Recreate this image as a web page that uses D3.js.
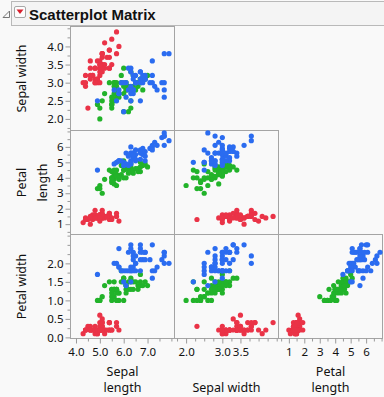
<!DOCTYPE html>
<html>
<head>
<meta charset="utf-8">
<script src="https://cdn.jsdelivr.net/npm/d3@7"></script>
<style>
  body { margin: 0; background: #f9f9f9; }
  svg { display: block; }
  text { font-family: "Noto Sans", "Open Sans", sans-serif; fill: #111; }
</style>
</head>
<body>
<div id="chart"></div>
<script>
// Fisher's iris data, rows in order: 50 setosa, 50 versicolor, 50 virginica
var sepalLength = [
 5.1,4.9,4.7,4.6,5.0,5.4,4.6,5.0,4.4,4.9,5.4,4.8,4.8,4.3,5.8,5.7,5.4,5.1,5.7,5.1,5.4,5.1,4.6,5.1,4.8,
 5.0,5.0,5.2,5.2,4.7,4.8,5.4,5.2,5.5,4.9,5.0,5.5,4.9,4.4,5.1,5.0,4.5,4.4,5.0,5.1,4.8,5.1,4.6,5.3,5.0,
 7.0,6.4,6.9,5.5,6.5,5.7,6.3,4.9,6.6,5.2,5.0,5.9,6.0,6.1,5.6,6.7,5.6,5.8,6.2,5.6,5.9,6.1,6.3,6.1,6.4,
 6.6,6.8,6.7,6.0,5.7,5.5,5.5,5.8,6.0,5.4,6.0,6.7,6.3,5.6,5.5,5.5,6.1,5.8,5.0,5.6,5.7,5.7,6.2,5.1,5.7,
 6.3,5.8,7.1,6.3,6.5,7.6,4.9,7.3,6.7,7.2,6.5,6.4,6.8,5.7,5.8,6.4,6.5,7.7,7.7,6.0,6.9,5.6,7.7,6.3,6.7,
 7.2,6.2,6.1,6.4,7.2,7.4,7.9,6.4,6.3,6.1,7.7,6.3,6.4,6.0,6.9,6.7,6.9,5.8,6.8,6.7,6.7,6.3,6.5,6.2,5.9];
var sepalWidth = [
 3.5,3.0,3.2,3.1,3.6,3.9,3.4,3.4,2.9,3.1,3.7,3.4,3.0,3.0,4.0,4.4,3.9,3.5,3.8,3.8,3.4,3.7,3.6,3.3,3.4,
 3.0,3.4,3.5,3.4,3.2,3.1,3.4,4.1,4.2,3.1,3.2,3.5,3.6,3.0,3.4,3.5,2.3,3.2,3.5,3.8,3.0,3.8,3.2,3.7,3.3,
 3.2,3.2,3.1,2.3,2.8,2.8,3.3,2.4,2.9,2.7,2.0,3.0,2.2,2.9,2.9,3.1,3.0,2.7,2.2,2.5,3.2,2.8,2.5,2.8,2.9,
 3.0,2.8,3.0,2.9,2.6,2.4,2.4,2.7,2.7,3.0,3.4,3.1,2.3,3.0,2.5,2.6,3.0,2.6,2.3,2.7,3.0,2.9,2.9,2.5,2.8,
 3.3,2.7,3.0,2.9,3.0,3.0,2.5,2.9,2.5,3.6,3.2,2.7,3.0,2.5,2.8,3.2,3.0,3.8,2.6,2.2,3.2,2.8,2.8,2.7,3.3,
 3.2,2.8,3.0,2.8,3.0,2.8,3.8,2.8,2.8,2.6,3.0,3.4,3.1,3.0,3.1,3.1,3.1,2.7,3.2,3.3,3.0,2.5,3.0,3.4,3.0];
var petalLength = [
 1.4,1.4,1.3,1.5,1.4,1.7,1.4,1.5,1.4,1.5,1.5,1.6,1.4,1.1,1.2,1.5,1.3,1.4,1.7,1.5,1.7,1.5,1.0,1.7,1.9,
 1.6,1.6,1.5,1.4,1.6,1.6,1.5,1.5,1.4,1.5,1.2,1.3,1.4,1.3,1.5,1.3,1.3,1.3,1.6,1.9,1.4,1.6,1.4,1.5,1.4,
 4.7,4.5,4.9,4.0,4.6,4.5,4.7,3.3,4.6,3.9,3.5,4.2,4.0,4.7,3.6,4.4,4.5,4.1,4.5,3.9,4.8,4.0,4.9,4.7,4.3,
 4.4,4.8,5.0,4.5,3.5,3.8,3.7,3.9,5.1,4.5,4.5,4.7,4.4,4.1,4.0,4.4,4.6,4.0,3.3,4.2,4.2,4.2,4.3,3.0,4.1,
 6.0,5.1,5.9,5.6,5.8,6.6,4.5,6.3,5.8,6.1,5.1,5.3,5.5,5.0,5.1,5.3,5.5,6.7,6.9,5.0,5.7,4.9,6.7,4.9,5.7,
 6.0,4.8,4.9,5.6,5.8,6.1,6.4,5.6,5.1,5.6,6.1,5.6,5.5,4.8,5.4,5.6,5.1,5.1,5.9,5.7,5.2,5.0,5.2,5.4,5.1];
var petalWidth = [
 0.2,0.2,0.2,0.2,0.2,0.4,0.3,0.2,0.2,0.1,0.2,0.2,0.1,0.1,0.2,0.4,0.4,0.3,0.3,0.3,0.2,0.4,0.2,0.5,0.2,
 0.2,0.4,0.2,0.2,0.2,0.2,0.4,0.1,0.2,0.2,0.2,0.2,0.1,0.2,0.2,0.3,0.3,0.2,0.6,0.4,0.3,0.2,0.2,0.2,0.2,
 1.4,1.5,1.5,1.3,1.5,1.3,1.6,1.0,1.3,1.4,1.0,1.5,1.0,1.4,1.3,1.4,1.5,1.0,1.5,1.1,1.8,1.3,1.5,1.2,1.3,
 1.4,1.4,1.7,1.5,1.0,1.1,1.0,1.2,1.6,1.5,1.6,1.5,1.3,1.3,1.3,1.2,1.4,1.2,1.0,1.3,1.2,1.3,1.3,1.1,1.3,
 2.5,1.9,2.1,1.8,2.2,2.1,1.7,1.8,1.8,2.5,2.0,1.9,2.1,2.0,2.4,2.3,1.8,2.2,2.3,1.5,2.3,2.0,2.0,1.8,2.1,
 1.8,1.8,1.8,2.1,1.6,1.9,2.0,2.2,1.5,1.4,2.3,2.4,1.8,1.8,2.1,2.4,2.3,1.9,2.3,2.5,2.3,1.9,2.0,2.3,1.8];

var speciesNames  = ["setosa", "versicolor", "virginica"];
var speciesCounts = [50, 50, 50];
var speciesColors = ["#ea3347", "#22b32a", "#2b6cf0"];

// ticks and the labels JMP chose to print
var sepalLengthTicks  = [4.0, 4.5, 5.0, 5.5, 6.0, 6.5, 7.0, 7.5, 8.0];
var sepalLengthLabels = [4.0, 5.0, 6.0, 7.0];
var sepalWidthTicks   = [1.75, 2.0, 2.25, 2.5, 2.75, 3.0, 3.25, 3.5, 3.75, 4.0, 4.25, 4.5];
var sepalWidthXLabels = [2.0, 3.0, 3.5];
var sepalWidthYLabels = [2.0, 2.5, 3.0, 3.5, 4.0];
var petalLengthTicks  = [0.5, 1, 1.5, 2, 2.5, 3, 3.5, 4, 4.5, 5, 5.5, 6, 6.5, 7];
var petalLengthLabels = [1, 2, 3, 4, 5, 6];
var petalWidthTicks   = [0, 0.25, 0.5, 0.75, 1.0, 1.25, 1.5, 1.75, 2.0, 2.25, 2.5, 2.75];
var petalWidthLabels  = [0.0, 0.5, 1.0, 1.5, 2.0];

var width = 384, height = 397;
var plotLeft = 70.5, plotTop = 26.5, cell = 104;

// species index per row, from the counts
var species = [];
speciesCounts.forEach(function(n, s) { for (var i = 0; i < n; i++) species.push(s); });

var rows = [
  { title: ["Sepal width"], data: sepalWidth, domain: [1.68, 4.55], ticks: sepalWidthTicks, labels: sepalWidthYLabels, fmt: d3.format(".1f") },
  { title: ["Petal", "length"], data: petalLength, domain: [0.33, 7.06], ticks: petalLengthTicks, labels: petalLengthLabels, fmt: d3.format("d") },
  { title: ["Petal width"], data: petalWidth, domain: [-0.03, 2.78], ticks: petalWidthTicks, labels: petalWidthLabels, fmt: d3.format(".1f") }
];
var cols = [
  { title: ["Sepal", "length"], data: sepalLength, domain: [3.77, 8.13], ticks: sepalLengthTicks, labels: sepalLengthLabels, fmt: d3.format(".1f") },
  { title: ["Sepal width"], data: sepalWidth, domain: [1.68, 4.55], ticks: sepalWidthTicks, labels: sepalWidthXLabels, fmt: d3.format(".1f") },
  { title: ["Petal", "length"], data: petalLength, domain: [0.33, 7.06], ticks: petalLengthTicks, labels: petalLengthLabels, fmt: d3.format("d") }
];

var svg = d3.select("#chart").append("svg")
  .attr("width", width)
  .attr("height", height);

// header
svg.append("path")
  .attr("d", "M3,17.5 L9.5,17.5 L9.5,11 Z")
  .attr("fill", "none")
  .attr("stroke", "#777");
svg.append("rect")
  .attr("x", 11.5).attr("y", 1.5)
  .attr("width", 380).attr("height", 24)
  .attr("fill", "#f4f4f4")
  .attr("stroke", "#b9b9b9");
svg.append("rect")
  .attr("x", 14.5).attr("y", 6.5)
  .attr("width", 11).attr("height", 11)
  .attr("rx", 1.5)
  .attr("fill", "#fdfdfd")
  .attr("stroke", "#a8a8a8");
svg.append("path")
  .attr("d", "M16.5,9.5 L23.5,9.5 L20,14 Z")
  .attr("fill", "#d8202e");
svg.append("text")
  .attr("x", 29).attr("y", 19.5)
  .style("font-family", "'Liberation Sans', Arial, sans-serif")
  .style("font-weight", "bold")
  .style("font-size", "15px")
  .text("Scatterplot Matrix");

var lineH = 16.5;

rows.forEach(function(rv, r) {
  var y = d3.scaleLinear().domain(rv.domain).range([plotTop + (r + 1) * cell, plotTop + r * cell]);

  // y axis on the first column
  var ya = svg.append("g")
    .attr("transform", "translate(" + plotLeft + ",0)")
    .call(d3.axisLeft(y).tickValues(rv.ticks).tickSize(3).tickPadding(4)
      .tickFormat(function(d) { return rv.labels.indexOf(d) >= 0 ? rv.fmt(d) : ""; }));
  ya.select(".domain").remove();
  ya.selectAll(".tick line").attr("stroke", "#9a9a9a")
    .attr("x2", function(d) { return rv.labels.indexOf(d) >= 0 ? -5 : -3; });
  ya.selectAll(".tick text").attr("x", -7)
    .style("font-size", "11.5px").style("font-family", "'Noto Sans', sans-serif").attr("fill", "#111");

  // y title
  var yt = svg.append("text")
    .attr("transform", "translate(22," + (plotTop + (r + 0.5) * cell) + ") rotate(-90)")
    .style("font-size", "12.5px")
    .attr("text-anchor", "middle");
  rv.title.forEach(function(t, i) {
    yt.append("tspan").attr("x", 0).attr("dy", i === 0 ? "0.35em" : lineH + 4).text(t);
  });

  cols.forEach(function(cv, c) {
    if (c > r) return;
    var x = d3.scaleLinear().domain(cv.domain).range([plotLeft + c * cell, plotLeft + (c + 1) * cell]);
    var g = svg.append("g");
    g.append("rect")
      .attr("x", plotLeft + c * cell).attr("y", plotTop + r * cell)
      .attr("width", cell).attr("height", cell)
      .attr("fill", "#f9f9f9")
      .attr("stroke", "#a4a4a4");
    g.selectAll("circle")
      .data(d3.range(species.length))
      .enter()
      .append("circle")
      .attr("cx", function(i) { return x(cv.data[i]); })
      .attr("cy", function(i) { return y(rv.data[i]); })
      .attr("r", 2.6)
      .attr("fill", function(i) { return speciesColors[species[i]]; });
  });
});

// x axes along the bottom row
cols.forEach(function(cv, c) {
  var x = d3.scaleLinear().domain(cv.domain).range([plotLeft + c * cell, plotLeft + (c + 1) * cell]);
  var base = plotTop + 3 * cell;
  var xa = svg.append("g")
    .attr("transform", "translate(0," + base + ")")
    .call(d3.axisBottom(x).tickValues(cv.ticks).tickSize(3).tickPadding(4)
      .tickFormat(function(d) { return cv.labels.indexOf(d) >= 0 ? cv.fmt(d) : ""; }));
  xa.select(".domain").remove();
  xa.selectAll(".tick line").attr("stroke", "#9a9a9a")
    .attr("y2", function(d) { return cv.labels.indexOf(d) >= 0 ? 5 : 3; });
  xa.selectAll(".tick text").attr("y", 9)
    .style("font-size", "11.5px").style("font-family", "'Noto Sans', sans-serif").attr("fill", "#111");

  var cx = plotLeft + (c + 0.5) * cell;
  var lines = cv.title;
  lines.forEach(function(t, i) {
    svg.append("text")
      .attr("x", cx)
      .attr("y", 388 - (lines.length - 1 - i) * lineH)
      .attr("dy", "0.35em")
      .attr("text-anchor", "middle")
      .style("font-size", "12.5px")
      .text(t);
  });
});
</script>
</body>
</html>
